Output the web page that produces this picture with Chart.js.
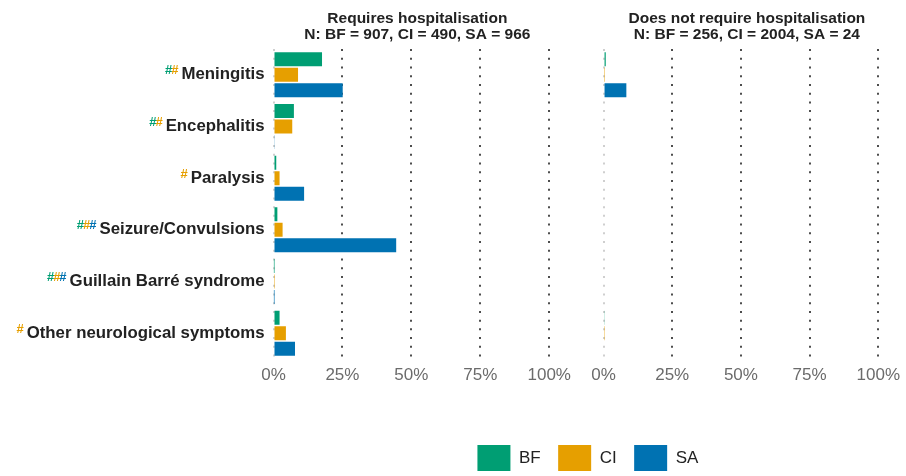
<!DOCTYPE html>
<html>
<head>
<meta charset="utf-8">
<script src="https://cdn.jsdelivr.net/npm/chart.js@4.4.1/dist/chart.umd.min.js"></script>
<style>
  html, body { margin: 0; padding: 0; background: #fff; overflow: hidden; }
  #wrap { position: relative; width: 906px; height: 476px; overflow: hidden; }
</style>
</head>
<body>
<div id="wrap"><canvas id="chart" width="906" height="481"></canvas></div>
<script>
// categories (top to bottom) and the three study sites
const categories = ["Meningitis", "Encephalitis", "Paralysis", "Seizure/Convulsions", "Guillain Barré syndrome", "Other neurological symptoms"];
const seriesNames = ["BF", "CI", "SA"];
const seriesColors = ["#009E73", "#E69F00", "#0072B2"];

// % of participants, requires hospitalisation
const hospBF = [17.6, 7.4, 1.0, 1.4, 0.1, 2.2];
const hospCI = [8.9, 6.8, 2.2, 3.3, 0.2, 4.5];
const hospSA = [25.1, 0.3, 11.1, 44.5, 0.1, 7.8];

// % of participants, does not require hospitalisation
const nonHospBF = [0.8, 0, 0, 0, 0, 0.3];
const nonHospCI = [0.2, 0, 0, 0, 0, 0.5];
const nonHospSA = [8.3, 0, 0, 0, 0, 0];

const panelTitles = [
  ["Requires hospitalisation", "N: BF = 907, CI = 490, SA = 966"],
  ["Does not require hospitalisation", "N: BF = 256, CI = 2004, SA = 24"]
];
// significance marks shown before each label, coloured by site
const hashMarks = [["BF", "CI"], ["BF", "CI"], ["CI"], ["BF", "CI", "SA"], ["BF", "CI", "SA"], ["CI"]];
const xTickValues = [0, 25, 50, 75, 100];

const FONT = '"Liberation Sans", Arial, Helvetica, sans-serif';

function makeDataset(label, data, colorIdx, axis) {
  return {
    label: label,
    data: data,
    backgroundColor: seriesColors[colorIdx],
    borderWidth: 0,
    stack: label,
    xAxisID: axis,
    yAxisID: "y",
    categoryPercentage: 0.9,
    barPercentage: 0.9
  };
}

function panelAxis(weight) {
  return {
    type: "linear",
    axis: "x",
    position: "bottom",
    stack: "panels",
    stackWeight: weight,
    stacked: false,
    min: 0,
    max: 100,
    afterBuildTicks: (s) => { s.ticks = xTickValues.map((v) => ({ value: v })); },
    afterFit: (s) => { s.height = 68.5; },
    grid: {
      drawTicks: false,
      lineWidth: 2,
      color: (c) => (c.tick && c.tick.value === 0 ? "#cfcfcf" : "#4d4d4d")
    },
    border: { display: false, dash: [2, 6.73] },
    ticks: {
      padding: 6,
      color: "#6b6b6b",
      font: { family: FONT, size: 17 },
      maxRotation: 0,
      autoSkip: false,
      callback: (v) => v + "%"
    }
  };
}

// y labels with coloured # marks, and the two panel headers
const labelPlugin = {
  id: "panelLabels",
  afterLayout(chart) {
    // legend sits a bit right of the panel centre
    chart.legend.left += 12;
    chart.legend.right += 12;
  },
  afterDraw(chart) {
    const { ctx, chartArea, scales } = chart;
    const y = scales.y;
    ctx.save();
    ctx.textBaseline = "middle";
    ctx.textAlign = "right";
    categories.forEach((cat, i) => {
      const py = y.getPixelForValue(i);
      let x = chartArea.left - 9;
      ctx.font = "bold 16.8px " + FONT;
      ctx.fillStyle = "#222";
      ctx.fillText(cat, x, py);
      x -= ctx.measureText(cat).width + 3;
      ctx.font = "bold 13px " + FONT;
      const marks = hashMarks[i];
      for (let k = marks.length - 1; k >= 0; k--) {
        ctx.fillStyle = seriesColors[seriesNames.indexOf(marks[k])];
        ctx.fillText("#", x, py - 4);
        x -= ctx.measureText("#").width - 1;
      }
    });

    ctx.textAlign = "center";
    ctx.fillStyle = "#222";
    ctx.font = "bold 15.5px " + FONT;
    ["x1", "x2"].forEach((id, k) => {
      const s = scales[id];
      const cx = (s.left + s.right) / 2 + 6;
      ctx.fillText(panelTitles[k][0], cx, chartArea.top - 30);
      ctx.fillText(panelTitles[k][1], cx, chartArea.top - 14);
    });
    ctx.restore();
  }
};

new Chart(document.getElementById("chart"), {
  type: "bar",
  data: {
    labels: categories,
    datasets: [
      makeDataset("BF", hospBF, 0, "x1"),
      makeDataset("CI", hospCI, 1, "x1"),
      makeDataset("SA", hospSA, 2, "x1"),
      makeDataset("BF", nonHospBF, 0, "x2"),
      makeDataset("CI", nonHospCI, 1, "x2"),
      makeDataset("SA", nonHospSA, 2, "x2")
    ]
  },
  plugins: [labelPlugin],
  options: {
    indexAxis: "y",
    responsive: false,
    animation: false,
    devicePixelRatio: 1,
    layout: { padding: { top: 49, right: 26, left: 0, bottom: 0 } },
    scales: {
      x1: panelAxis(276.5),
      gap: {
        type: "linear",
        axis: "x",
        position: "bottom",
        stack: "panels",
        stackWeight: 54.5,
        grid: { display: false },
        border: { display: false },
        ticks: { display: false },
        afterFit: (s) => { s.height = 68.5; }
      },
      x2: panelAxis(275.5),
      y: {
        type: "category",
        labels: categories,
        grid: { display: false },
        border: { display: false },
        ticks: { display: false },
        afterFit: (s) => { s.width = 273.5; }
      }
    },
    plugins: {
      title: { display: false },
      tooltip: { enabled: false },
      legend: {
        position: "bottom",
        fullSize: false,
        labels: {
          boxWidth: 33,
          boxHeight: 26,
          padding: 17.5,
          color: "#222",
          font: { family: FONT, size: 17 },
          filter: (item) => item.datasetIndex < 3
        }
      }
    }
  }
});
</script>
</body>
</html>
